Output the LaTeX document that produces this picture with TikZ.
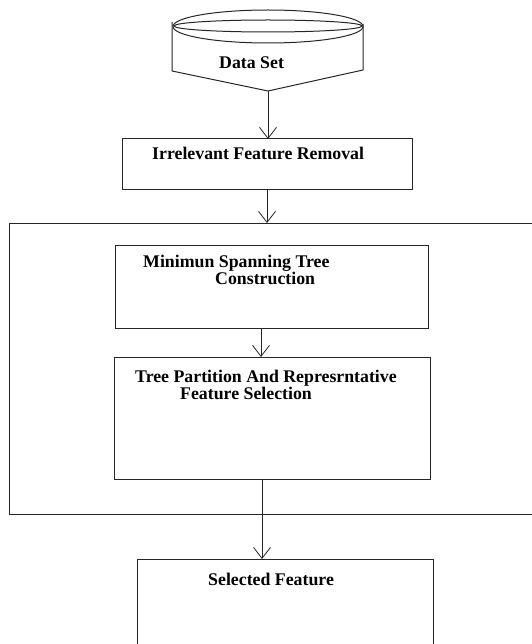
\documentclass[tikz,border=0pt]{standalone}
\usepackage{fontspec}
\setmainfont{Liberation Serif}
\usetikzlibrary{arrows.meta}
\tikzset{
  ln/.style={draw=black!85, line width=1pt},
  box/.style={ln, rectangle, anchor=north west, outer sep=0pt, inner sep=0pt},
  arr/.style={ln, -{Straight Barb[length=11pt, width=17pt, line width=0.8pt]}},
  lbl/.style={anchor=base west, inner sep=0pt, align=left, font=\fontsize{17.8}{16.5}\selectfont\bfseries}
}
\begin{document}
\begin{tikzpicture}[x=1pt,y=-1pt]
\useasboundingbox (0,0) rectangle (531,644);
% Data set shape
\draw[ln] (172,22) -- (172,71) -- (268,91) -- (363,70) -- (363,24);
\draw[ln] (268,26.5) ellipse [x radius=95, y radius=16.5];
\draw[ln] (268,26) ellipse [x radius=94, y radius=6];
\coordinate (dstip) at (268,91);
\node[lbl] (ds) at (219,69) {Data Set};
% boxes
\node[box, minimum width=290, minimum height=51] (irr) at (122,139) {};
\node[box, minimum width=540, minimum height=291] (big) at (9,223) {};
\node[box, minimum width=313, minimum height=83] (mst) at (115,245) {};
\node[box, minimum width=316, minimum height=122] (tree) at (114,357) {};
\node[box, minimum width=296, minimum height=110] (sel) at (137,559) {};
% texts
\node[lbl] (t1) at (152,160) {Irrelevant Feature Removal};
\node[lbl] (t2) at (143,284) {Minimun Spanning Tree\\\hspace*{72pt}Construction};
\node[lbl] (t4) at (135,399) {Tree Partition And Represrntative\\\hspace*{45pt}Feature Selection};
\node[lbl] (t6) at (208,585) {Selected Feature};
% connectors
\coordinate (a2) at (267,0);
\coordinate (a3) at (261,0);
\coordinate (a4) at (262,0);
\draw[arr] (dstip) -- (dstip |- irr.north);
\draw[arr] (a2 |- irr.south) -- (a2 |- big.north);
\draw[arr] (a3 |- mst.south) -- (a3 |- tree.north);
\draw[arr] (a4 |- tree.south) -- (a4 |- sel.north);
\end{tikzpicture}
\end{document}
